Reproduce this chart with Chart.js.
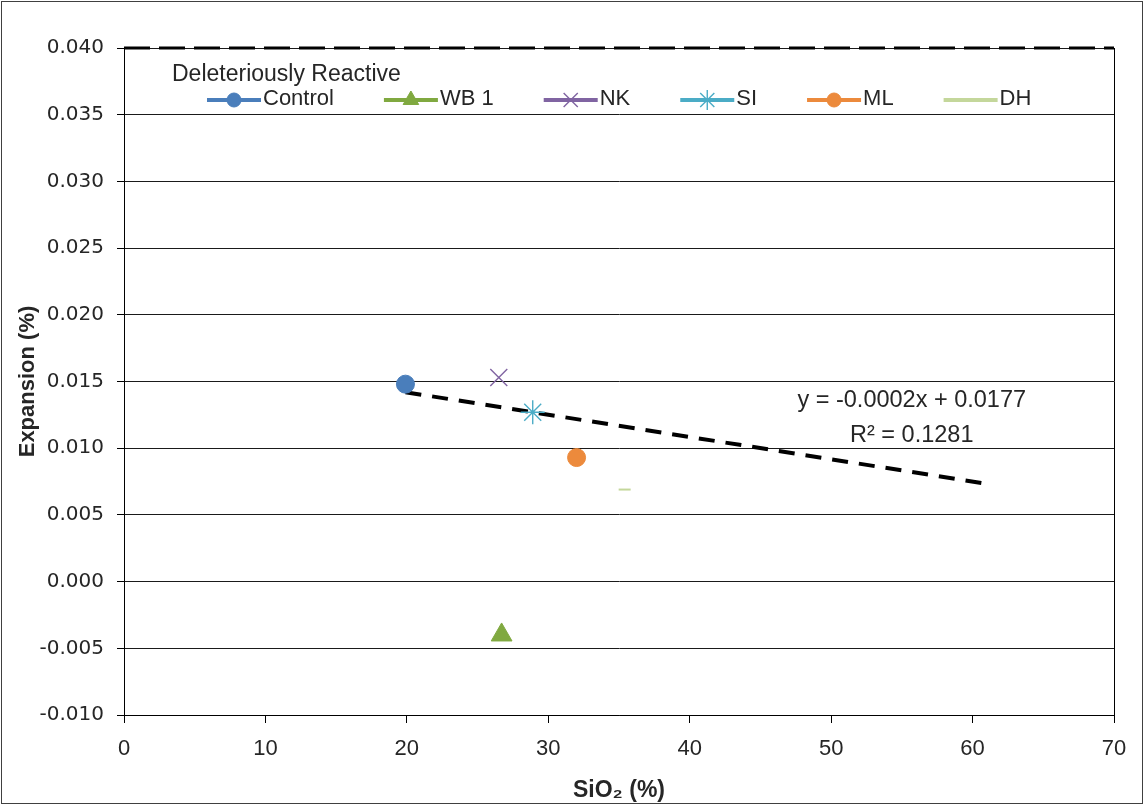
<!DOCTYPE html>
<html>
<head>
<meta charset="utf-8">
<script src="https://cdn.jsdelivr.net/npm/chart.js@4.4.1/dist/chart.umd.min.js"></script>
<style>
  body { margin: 0; background: #fff; }
  canvas { display: block; }
</style>
</head>
<body>
<canvas id="expansionChart" width="1144" height="805"></canvas>
<script>
// samples (SiO2 % vs expansion %)
const sampleNames = ['Control', 'WB 1', 'NK', 'SI', 'ML', 'DH'];
const sio2Values = [19.9, 26.7, 26.5, 28.9, 32.0, 35.4];
const expansionValues = [0.0148, -0.0040, 0.0153, 0.0127, 0.0093, 0.0069];

// linear trendline as drawn
const trendX = [19.9, 61.2];
const trendY = [0.0142, 0.0073];
const trendEquation = 'y = -0.0002x + 0.0177';
const trendR2 = 'R² = 0.1281';

// deleteriously reactive limit
const limitLabel = 'Deleteriously Reactive';
const limitX = [0, 70];
const limitY = [0.040, 0.040];

// axes
const xTicks = [0, 10, 20, 30, 40, 50, 60, 70];
const yTicks = [-0.010, -0.005, 0.000, 0.005, 0.010, 0.015, 0.020, 0.025, 0.030, 0.035, 0.040];

const markerStyles = [
    { color: '#4A7EBB', style: 'circle', radius: 9, width: 1, legendRadius: 7 },
    { color: '#80A940', style: 'triangle', radius: 12, width: 1, legendRadius: 9 },
    { color: '#8064A2', style: 'crossRot', radius: 12, width: 1.4, legendRadius: 10 },
    { color: '#4BACC6', style: 'star', radius: 12, width: 1.4, legendRadius: 10 },
    { color: '#EC8A3C', style: 'circle', radius: 9, width: 1, legendRadius: 7 },
    { color: '#C4D79B', style: 'line', radius: 6, width: 2, legendRadius: 0 }
];

const textFont = '"Liberation Sans", Arial, sans-serif';

const datasets = sampleNames.map((name, i) => ({
    label: name,
    data: [{ x: sio2Values[i], y: expansionValues[i] }],
    backgroundColor: markerStyles[i].color,
    borderColor: markerStyles[i].color,
    pointStyle: markerStyles[i].style,
    pointRadius: markerStyles[i].radius,
    pointBorderWidth: markerStyles[i].width,
    showLine: false
}));

datasets.push({
    label: 'Linear trend',
    type: 'line',
    data: trendX.map((x, i) => ({ x: x, y: trendY[i] })),
    borderColor: '#000',
    borderWidth: 4,
    borderDash: [16, 11],
    pointRadius: 0,
    fill: false
});

datasets.push({
    label: limitLabel,
    type: 'line',
    data: limitX.map((x, i) => ({ x: x, y: limitY[i] })),
    borderColor: '#000',
    borderWidth: 3,
    borderDash: [26, 9],
    pointRadius: 0,
    fill: false,
    clip: false
});

const chartExtras = {
    id: 'chartExtras',
    beforeDraw(chart) {
        const c = chart.ctx;
        c.save();
        c.fillStyle = '#fff';
        c.fillRect(0, 0, chart.width, chart.height);
        c.restore();
    },
    afterDraw(chart) {
        const c = chart.ctx;
        const area = chart.chartArea;
        const xs = chart.scales.x;
        const ys = chart.scales.y;
        c.save();

        // right edge of plot area
        c.strokeStyle = '#000';
        c.lineWidth = 1;
        c.beginPath();
        c.moveTo(Math.round(area.right) + 0.5, area.top);
        c.lineTo(Math.round(area.right) + 0.5, area.bottom);
        c.stroke();

        // outer frame
        c.strokeStyle = '#404040';
        c.strokeRect(1.5, 1.5, chart.width - 3, chart.height - 3);

        // limit line label
        c.fillStyle = '#262626';
        c.font = '23px ' + textFont;
        c.textBaseline = 'middle';
        c.textAlign = 'left';
        c.fillText(limitLabel, 172, 75);

        // legend row inside plot
        let lx = 207;
        const ly = 100;
        c.font = '22px ' + textFont;
        sampleNames.forEach((name, i) => {
            const m = markerStyles[i];
            c.strokeStyle = m.color;
            c.fillStyle = m.color;
            c.lineWidth = 4;
            c.beginPath();
            c.moveTo(lx, ly);
            c.lineTo(lx + 54, ly);
            c.stroke();
            if (m.legendRadius > 0) {
                c.lineWidth = m.width;
                Chart.helpers.drawPoint(c, { pointStyle: m.style, radius: m.legendRadius, borderWidth: m.width, rotation: 0 }, lx + 27, ly);
            }
            c.fillStyle = '#262626';
            c.fillText(name, lx + 56, ly - 1);
            lx += 56 + c.measureText(name).width + 50;
        });

        // trendline equation
        const ex = xs.getPixelForValue(55.7);
        const ey = ys.getPixelForValue(0.0136);
        c.fillStyle = '#262626';
        c.font = '23.5px ' + textFont;
        c.textAlign = 'center';
        c.fillText(trendEquation, ex, ey);
        c.fillText(trendR2, ex, ey + 35);
        c.restore();
    }
};

new Chart(document.getElementById('expansionChart').getContext('2d'), {
    type: 'scatter',
    data: { datasets: datasets },
    options: {
        responsive: false,
        animation: false,
        layout: { padding: { left: 0, right: 30, top: 48, bottom: 0 } },
        plugins: {
            legend: { display: false },
            tooltip: { enabled: false }
        },
        scales: {
            x: {
                type: 'linear',
                position: 'bottom',
                min: xTicks[0],
                max: xTicks[xTicks.length - 1],
                afterBuildTicks: scale => { scale.ticks = xTicks.map(v => ({ value: v })); },
                afterFit: scale => { scale.height = 90; },
                grid: { drawOnChartArea: false, drawTicks: true, tickLength: 8, color: '#000', tickColor: '#000' },
                border: { color: '#000', width: 1 },
                ticks: {
                    color: '#262626',
                    padding: 13,
                    font: { family: textFont, size: 22 }
                },
                title: {
                    display: true,
                    text: 'SiO₂ (%)',
                    color: '#262626',
                    font: { family: textFont, size: 23, weight: 'bold' },
                    padding: { top: 0, bottom: 1 }
                }
            },
            y: {
                type: 'linear',
                min: yTicks[0],
                max: yTicks[yTicks.length - 1],
                afterBuildTicks: scale => { scale.ticks = yTicks.map(v => ({ value: v })); },
                afterFit: scale => { scale.width = 124; },
                grid: { color: '#1a1a1a', lineWidth: 1, tickLength: 7, tickColor: '#000' },
                border: { color: '#000', width: 1 },
                ticks: {
                    color: '#262626',
                    padding: 13,
                    font: { family: '"DejaVu Sans", sans-serif', size: 20 },
                    callback: v => (Math.abs(v) < 1e-9 ? 0 : v).toFixed(3)
                },
                title: {
                    display: true,
                    text: 'Expansion (%)',
                    color: '#262626',
                    font: { family: textFont, size: 22, weight: 'bold' },
                    padding: { top: 15, bottom: 0 }
                }
            }
        }
    },
    plugins: [chartExtras]
});
</script>
</body>
</html>
